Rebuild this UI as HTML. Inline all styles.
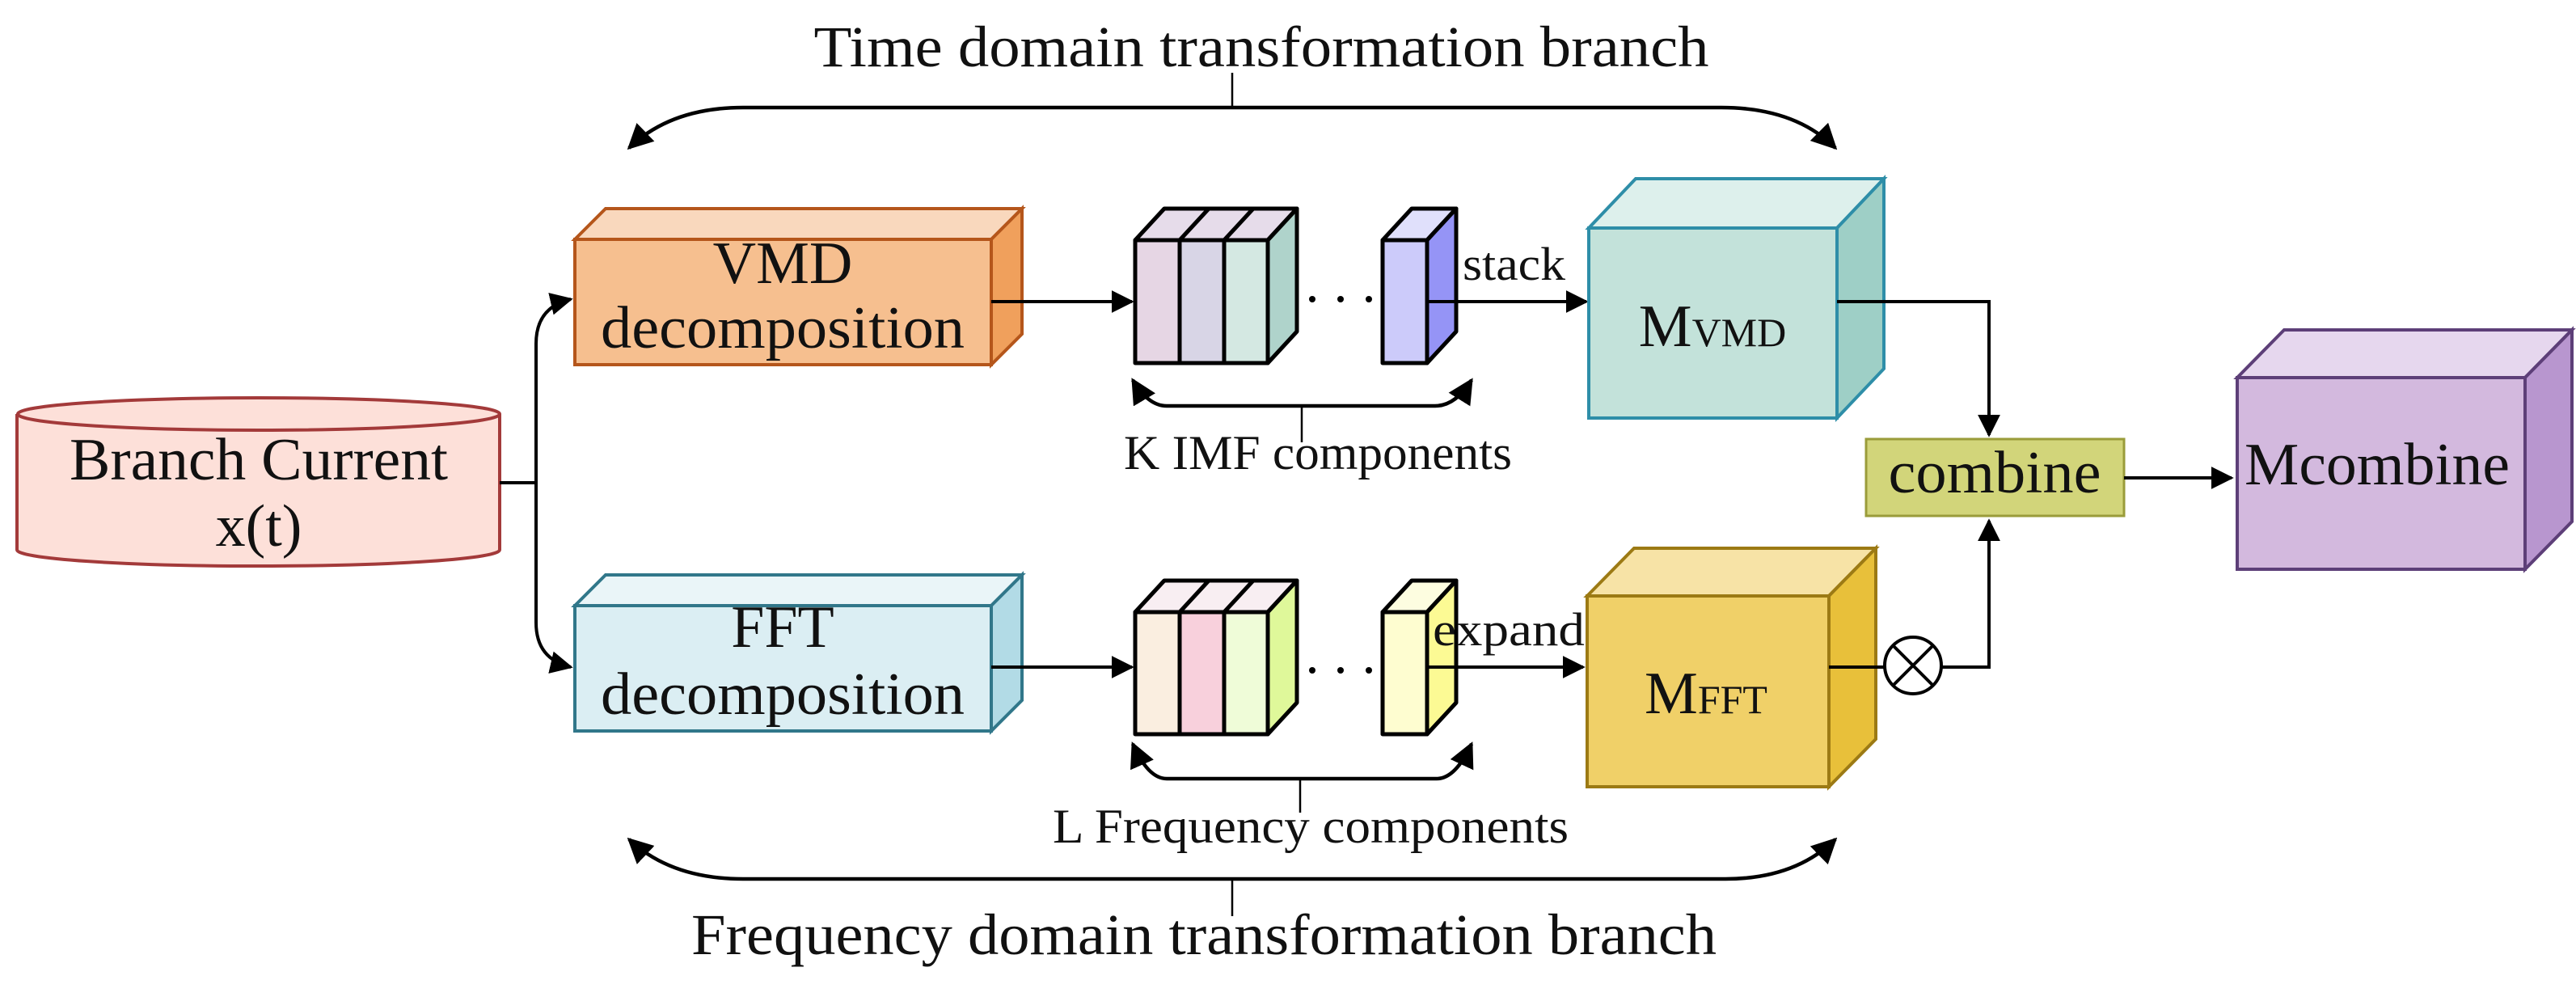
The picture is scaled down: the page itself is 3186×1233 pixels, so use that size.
<!DOCTYPE html>
<html><head><meta charset="utf-8"><style>
html,body{margin:0;padding:0;background:#fff}
svg{display:block}
text{font-family:"Liberation Serif",serif;fill:#111}
</style></head><body>
<svg width="3186" height="1233" viewBox="0 0 3186 1233" xmlns="http://www.w3.org/2000/svg">
<defs>
<marker id="ah" viewBox="0 0 10 10" refX="9" refY="5" markerWidth="7" markerHeight="7" markerUnits="strokeWidth" orient="auto-start-reverse">
<path d="M0,0 L10,5 L0,10 z" fill="#000"/></marker>
<marker id="ah2" viewBox="0 0 10 10" refX="9" refY="5" markerWidth="10" markerHeight="10" markerUnits="strokeWidth" orient="auto-start-reverse">
<path d="M0,0 L10,5 L0,10 z" fill="#000"/></marker>
</defs>

<!-- Titles -->
<text x="1560" y="82" font-size="72" text-anchor="middle" textLength="1107" lengthAdjust="spacingAndGlyphs">Time domain transformation branch</text>
<text x="1489" y="1180" font-size="72" text-anchor="middle" textLength="1268" lengthAdjust="spacingAndGlyphs">Frequency domain transformation branch</text>

<!-- top brace -->
<g fill="none" stroke="#000">
<line x1="1524" y1="90" x2="1524" y2="133" stroke-width="2.5"/>
<path d="M778,183 Q830,133 919,133 H2129 Q2220,133 2270,183" stroke-width="4.5" marker-start="url(#ah)" marker-end="url(#ah)"/>
<line x1="1524" y1="1087" x2="1524" y2="1133" stroke-width="2.5"/>
<path d="M778,1038 Q830,1087 919,1087 H2134 Q2220,1087 2270,1038" stroke-width="4.5" marker-start="url(#ah)" marker-end="url(#ah)"/>
</g>

<!-- Cylinder -->
<path d="M21,512 V680 A298,20 0 0 0 618,680 V512" fill="#fde0d9" stroke="#a33a3a" stroke-width="4"/>
<ellipse cx="320" cy="512" rx="298" ry="20" fill="#fde0d9" stroke="#a33a3a" stroke-width="4"/>
<text x="320" y="593" font-size="74" text-anchor="middle" textLength="468" lengthAdjust="spacingAndGlyphs">Branch Current</text>
<text x="320" y="675" font-size="74" text-anchor="middle">x(t)</text>

<!-- split connector -->
<g fill="none" stroke="#000" stroke-width="4">
<line x1="618" y1="597" x2="663" y2="597"/>
<path d="M663,597 V425 Q663,380 706,370" marker-end="url(#ah)"/>
<path d="M663,597 V770 Q663,815 706,825" marker-end="url(#ah)"/>
</g>

<!-- VMD box -->
<g stroke="#b5561b" stroke-width="4">
<polygon points="711,296 749,258 1264,258 1226,296" fill="#f9d8bd"/>
<polygon points="1226,296 1264,258 1264,413 1226,451" fill="#f0a05c"/>
<rect x="711" y="296" width="515" height="155" fill="#f6bf8f"/>
</g>
<text x="968" y="350" font-size="74" text-anchor="middle">VMD</text>
<text x="968" y="430" font-size="74" text-anchor="middle" textLength="450" lengthAdjust="spacingAndGlyphs">decomposition</text>

<!-- FFT box -->
<g stroke="#31778a" stroke-width="4">
<polygon points="711,749 749,711 1264,711 1226,749" fill="#eaf5f8"/>
<polygon points="1226,749 1264,711 1264,866 1226,904" fill="#b2dbe6"/>
<rect x="711" y="749" width="515" height="155" fill="#dbeef3"/>
</g>
<text x="968" y="800" font-size="74" text-anchor="middle">FFT</text>
<text x="968" y="883" font-size="74" text-anchor="middle" textLength="450" lengthAdjust="spacingAndGlyphs">decomposition</text>

<!-- arrows to slabs -->
<g stroke="#000" stroke-width="4" fill="none">
<line x1="1226" y1="373" x2="1400" y2="373" marker-end="url(#ah)"/>
<line x1="1226" y1="825" x2="1400" y2="825" marker-end="url(#ah)"/>
</g>

<!-- VMD slabs -->
<g stroke="#000" stroke-width="5" stroke-linejoin="round">
<polygon points="1404,297 1440,258 1604,258 1568,297" fill="#e6dcea"/>
<line x1="1459" y1="297" x2="1495" y2="258"/><line x1="1514" y1="297" x2="1550" y2="258"/>
<polygon points="1568,297 1604,258 1604,410 1568,449" fill="#afd3cb"/>
<rect x="1404" y="297" width="55" height="152" fill="#e6d6e4"/>
<rect x="1459" y="297" width="55" height="152" fill="#d8d5e6"/>
<rect x="1514" y="297" width="54" height="152" fill="#d4e8e2"/>
<polygon points="1710,297 1746,258 1801,258 1765,297" fill="#e0e0fb"/>
<polygon points="1765,297 1801,258 1801,410 1765,449" fill="#9594f6"/>
<rect x="1710" y="297" width="55" height="152" fill="#cccbfa"/>
</g>
<g fill="#000"><circle cx="1623" cy="370" r="4"/><circle cx="1658" cy="370" r="4"/><circle cx="1693" cy="370" r="4"/></g>

<!-- FFT slabs -->
<g stroke="#000" stroke-width="5" stroke-linejoin="round">
<polygon points="1404,757 1440,718 1604,718 1568,757" fill="#f8eef2"/>
<line x1="1459" y1="757" x2="1495" y2="718"/><line x1="1514" y1="757" x2="1550" y2="718"/>
<polygon points="1568,757 1604,718 1604,869 1568,908" fill="#dff89a"/>
<rect x="1404" y="757" width="55" height="151" fill="#faeee0"/>
<rect x="1459" y="757" width="55" height="151" fill="#f8d0dc"/>
<rect x="1514" y="757" width="54" height="151" fill="#effcd8"/>
<polygon points="1710,757 1746,718 1801,718 1765,757" fill="#fdfde0"/>
<polygon points="1765,757 1801,718 1801,869 1765,908" fill="#fcfa94"/>
<rect x="1710" y="757" width="55" height="151" fill="#fefdd0"/>
</g>
<g fill="#000"><circle cx="1623" cy="829" r="4"/><circle cx="1658" cy="829" r="4"/><circle cx="1693" cy="829" r="4"/></g>

<!-- small braces -->
<g fill="none" stroke="#000">
<path d="M1401,470 Q1420,502 1443,502 H1775 Q1800,502 1820,470" stroke-width="4.5" marker-start="url(#ah)" marker-end="url(#ah)"/>
<line x1="1610" y1="502" x2="1610" y2="547" stroke-width="2.5"/>
<path d="M1401,920 Q1420,963 1443,963 H1777 Q1800,963 1820,920" stroke-width="4.5" marker-start="url(#ah)" marker-end="url(#ah)"/>
<line x1="1608" y1="963" x2="1608" y2="1005" stroke-width="2.5"/>
</g>
<text x="1630" y="580" font-size="60" text-anchor="middle" textLength="480" lengthAdjust="spacingAndGlyphs">K IMF components</text>
<text x="1621" y="1042" font-size="60" text-anchor="middle" textLength="638" lengthAdjust="spacingAndGlyphs">L Frequency components</text>

<!-- stack / expand -->
<text x="1809" y="346" font-size="58" textLength="127" lengthAdjust="spacingAndGlyphs">stack</text>
<text x="1772" y="798" font-size="58" textLength="188" lengthAdjust="spacingAndGlyphs">expand</text>
<g stroke="#000" stroke-width="4" fill="none">
<line x1="1765" y1="373" x2="1962" y2="373" marker-end="url(#ah)"/>
<line x1="1765" y1="825" x2="1958" y2="825" marker-end="url(#ah)"/>
</g>

<!-- M_VMD -->
<g stroke="#2e8ea8" stroke-width="4">
<polygon points="1965,282 2023,221 2330,221 2272,282" fill="#ddf0ec"/>
<polygon points="2272,282 2330,221 2330,456 2272,517" fill="#9ecfc6"/>
<rect x="1965" y="282" width="307" height="235" fill="#c3e2da"/>
</g>
<text x="2118" y="428" font-size="74" text-anchor="middle">M<tspan font-size="50">VMD</tspan></text>

<!-- M_FFT -->
<g stroke="#9c7a14" stroke-width="4">
<polygon points="1963,737 2021,678 2320,678 2262,737" fill="#f7e3a6"/>
<polygon points="2262,737 2320,678 2320,914 2262,973" fill="#e8c03a"/>
<rect x="1963" y="737" width="299" height="236" fill="#f0d068"/>
</g>
<text x="2110" y="882" font-size="74" text-anchor="middle">M<tspan font-size="50">FFT</tspan></text>

<!-- connectors to combine -->
<g stroke="#000" stroke-width="4" fill="none">
<polyline points="2272,373 2460,373 2460,538" marker-end="url(#ah)"/>
<line x1="2262" y1="825" x2="2331" y2="825"/>
<polyline points="2401,825 2460,825 2460,644" marker-end="url(#ah)"/>
<ellipse cx="2366" cy="823" rx="35" ry="35" fill="#fff"/>
<line x1="2341" y1="798" x2="2391" y2="848"/><line x1="2391" y1="798" x2="2341" y2="848"/>
</g>

<!-- combine -->
<rect x="2308" y="543" width="319" height="95" fill="#d2d57a" stroke="#9a9c3a" stroke-width="3"/>
<text x="2467" y="609" font-size="74" text-anchor="middle" textLength="263" lengthAdjust="spacingAndGlyphs">combine</text>
<line x1="2627" y1="591" x2="2760" y2="591" stroke="#000" stroke-width="4" marker-end="url(#ah)"/>

<!-- Mcombine -->
<g stroke="#5d3f78" stroke-width="4">
<polygon points="2767,467 2825,408 3181,408 3123,467" fill="#e6d7ee"/>
<polygon points="3123,467 3181,408 3181,645 3123,704" fill="#b896cf"/>
<rect x="2767" y="467" width="356" height="237" fill="#d3b9de"/>
</g>
<text x="2940" y="599" font-size="74" text-anchor="middle" textLength="328" lengthAdjust="spacingAndGlyphs">Mcombine</text>
</svg>
</body></html>
